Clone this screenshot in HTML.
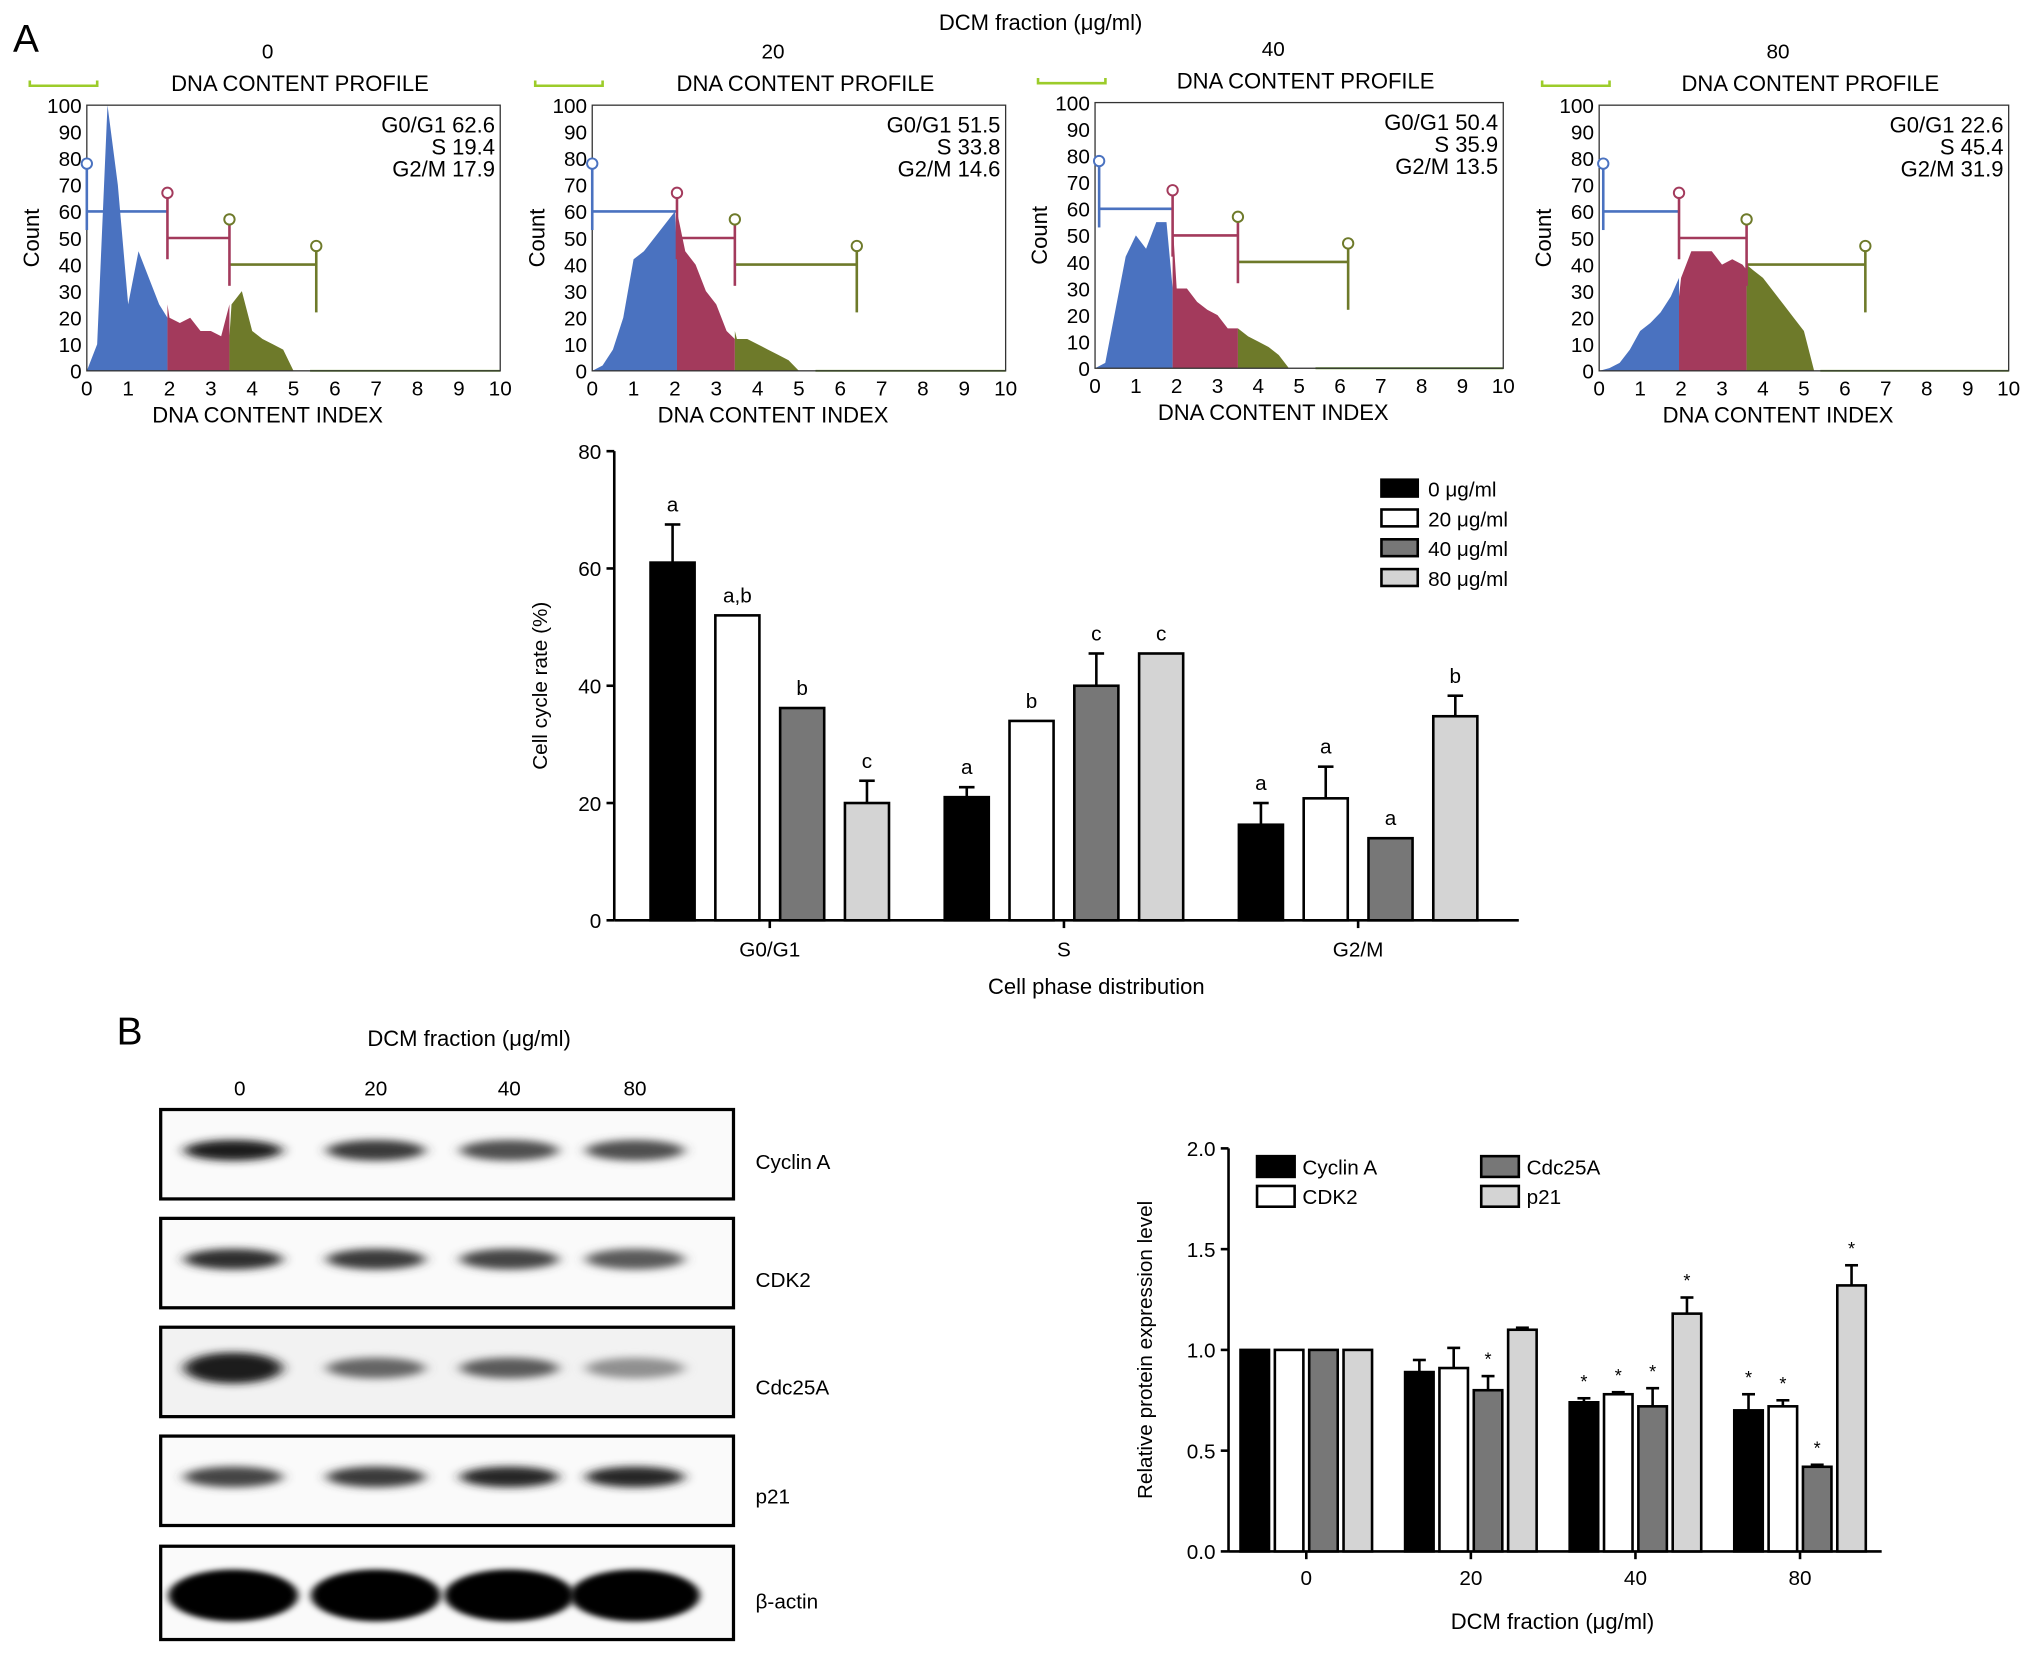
<!DOCTYPE html>
<html><head><meta charset="utf-8"><style>
html,body{margin:0;padding:0;background:#fff;}
svg{display:block;font-family:"Liberation Sans",Arial,sans-serif;}
</style></head><body>
<svg id="fig" width="2032" height="1654" viewBox="0 0 1568 1276" xmlns="http://www.w3.org/2000/svg">
<defs>
<filter id="blur" x="-30%" y="-100%" width="160%" height="300%"><feGaussianBlur stdDeviation="5 3"/></filter>
<filter id="blur2" x="-30%" y="-100%" width="160%" height="300%"><feGaussianBlur stdDeviation="3 2"/></filter>
</defs>
<text x="10" y="40" font-size="30">A</text>
<text x="803" y="23" font-size="17" text-anchor="middle">DCM fraction (μg/ml)</text>
<text x="90" y="806" font-size="30">B</text>
<g id="hist"></g>
<g id="barA"></g>
<g id="blot"></g>
<g id="barB"></g>
</svg>
<script>
const NS="http://www.w3.org/2000/svg";
function mk(p,t,a,txt){const e=document.createElementNS(NS,t);for(const k in a)e.setAttribute(k,a[k]);if(txt!==undefined)e.textContent=txt;p.appendChild(e);return e;}

// ---------- Histogram data ----------
const histDoses=["0","20","40","80"];
const histStats=[["G0/G1 62.6","S 19.4","G2/M 17.9"],["G0/G1 51.5","S 33.8","G2/M 14.6"],["G0/G1 50.4","S 35.9","G2/M 13.5"],["G0/G1 22.6","S 45.4","G2/M 31.9"]];
// heights at DNA index 0,0.25,...,5.25
const histP1=[0,10,100,70,25,45,35,25,20,18,20,15,15,13,25,30,15,12,10,8,0,0];
const histP2=[0,2,8,20,42,45,50,55,60,45,40,30,25,15,12,12,10,8,6,4,0,0];
const histP3=[0,2,22,42,50,45,55,55,30,30,25,22,20,15,15,12,10,8,5,0,0,0];
const histP4=[0,1,3,8,15,18,22,28,35,45,45,45,40,42,40,38,35,30,25,20,15,0];
const histGates=[[0,1.95,3.45,5.55],[0,2.05,3.45,6.4],[0.1,1.9,3.5,6.2],[0.1,1.95,3.6,6.5]];
const histSeries=[histP1,histP2,histP3,histP4];
const histBoxes=[[67,81,386,286],[457,81,776,286],[845,79,1160,284],[1234,81,1550,286]];
const colB="#4a72c0",colR="#a33a5c",colO="#6e7a2a";
const H=document.getElementById('hist');
histSeries.forEach((d,i)=>{
  const [x0,y0,x1,y1]=histBoxes[i];
  const g=mk(H,'g',{});
  
  
  const sx=v=>x0+(x1-x0)*v/10, sy=v=>y1-(y1-y0)*v/100;
  const cx=(x0+x1)/2;
  mk(g,'text',{x:cx-20,y:y0-36,'font-size':16,'text-anchor':'middle'},histDoses[i]);
  mk(g,'text',{x:cx+5,y:y0-11,'font-size':17,'text-anchor':'middle'},'DNA CONTENT PROFILE');
  mk(g,'path',{d:`M${x0-44} ${y0-19}v4h52v-4`,stroke:'#9ccc2a',fill:'none','stroke-width':2});
  const gt=histGates[i];
  const segs=[[0,gt[1],colB],[gt[1],gt[2],colR],[gt[2],5.4,colO]];
  segs.forEach(([a,b,c])=>{
    let pts=`${sx(a)},${sy(0)} `;
    for(let k=0;k<d.length;k++){const xv=k*0.25;if(xv<a-0.25||xv>b+0.25)continue;const xc=Math.min(Math.max(xv,a),b);pts+=`${sx(xc)},${sy(d[k])} `;}
    pts+=`${sx(b)},${sy(0)}`;
    const p=mk(g,'polygon',{points:pts,fill:c});
    
    
  });
  mk(g,'line',{x1:sx(5.4),x2:x1,y1:y1,y2:y1,stroke:'#6a9a2a','stroke-width':1.5});
  mk(g,'rect',{x:x0,y:y0,width:x1-x0,height:y1-y0,fill:'none',stroke:'#333','stroke-width':1});
  for(let t=0;t<=100;t+=10){mk(g,'text',{x:x0-4,y:sy(t)+6,'font-size':16,'text-anchor':'end'},t);}
  for(let t=0;t<=10;t++){mk(g,'text',{x:sx(t),y:y1+19,'font-size':16,'text-anchor':'middle'},t);}
  mk(g,'text',{x:cx-20,y:y1+40,'font-size':17,'text-anchor':'middle'},'DNA CONTENT INDEX');
  mk(g,'text',{transform:`translate(${x0-37},${(y0+y1)/2}) rotate(-90)`,'font-size':17,'text-anchor':'middle'},'Count');
  histStats[i].forEach((s,k)=>mk(g,'text',{x:x1-4,y:y0+21+k*17,'font-size':17,'text-anchor':'end'},s));
  const gl=[[gt[0],gt[1],60,colB],[gt[1],gt[2],50,colR],[gt[2],gt[3],40,colO]];
  const circ=[78,67,57,47];
  const ccol=[colB,colR,colO,colO];
  gl.forEach(([a,b,h,c])=>{mk(g,'line',{x1:sx(a),x2:sx(b),y1:sy(h),y2:sy(h),stroke:c,'stroke-width':2});});
  gt.forEach((v,k)=>{
    const yc=circ[k];
    mk(g,'line',{x1:sx(v),x2:sx(v),y1:sy(yc-2),y2:sy(yc-25),stroke:k==0?colB:(k<3?colR:colO),'stroke-width':2});
    mk(g,'circle',{cx:sx(v),cy:sy(yc),r:4,fill:'#fff',stroke:ccol[k],'stroke-width':1.5});
  });
});

// ---------- Bar chart A ----------
const phaseCats=["G0/G1","S","G2/M"];
const doseLabels=["0 μg/ml","20 μg/ml","40 μg/ml","80 μg/ml"];
const rate0=[61,21,16.3], rate20=[52,34,20.8], rate40=[36.2,40,14], rate80=[20,45.5,34.8];
const err0=[6.5,1.7,3.7], err20=[0,0,5.4], err40=[0,5.5,0], err80=[3.8,0,3.5];
const lettersA=[["a","a","a"],["a,b","b","a"],["b","c","a"],["c","c","b"]];
const yTicksA=[0,20,40,60,80];
const fillsA=["#000","#fff","#777","#d4d4d4"];
(function(){
  const G=document.getElementById('barA');
  const xL=474,xR=1172,yB=710,yT=348,max=80;
  const sy=v=>yB-(yB-yT)*v/max;
  const cX=i=>594+i*227;
  const ser=[rate0,rate20,rate40,rate80], errs=[err0,err20,err40,err80];
  mk(G,'line',{x1:xL,x2:xL,y1:yT,y2:yB,stroke:'#000','stroke-width':2});
  mk(G,'line',{x1:xL,x2:xR,y1:yB,y2:yB,stroke:'#000','stroke-width':2});
  yTicksA.forEach(t=>{mk(G,'line',{x1:xL-6,x2:xL,y1:sy(t),y2:sy(t),stroke:'#000','stroke-width':2});mk(G,'text',{x:xL-10,y:sy(t)+6,'font-size':16,'text-anchor':'end'},t);});
  phaseCats.forEach((c,i)=>{mk(G,'line',{x1:cX(i),x2:cX(i),y1:yB,y2:yB+6,stroke:'#000','stroke-width':2});mk(G,'text',{x:cX(i),y:yB+28,'font-size':16,'text-anchor':'middle'},c);});
  mk(G,'text',{x:846,y:767,'font-size':17,'text-anchor':'middle'},'Cell phase distribution');
  mk(G,'text',{transform:`translate(422,${(yB+yT)/2}) rotate(-90)`,'font-size':16,'text-anchor':'middle'},'Cell cycle rate (%)');
  ser.forEach((s,k)=>s.forEach((v,i)=>{
    const x=cX(i)+(k-1.5)*50-17;
    const top=sy(v+errs[k][i]);
    if(errs[k][i]>0){mk(G,'line',{x1:x+17,x2:x+17,y1:sy(v),y2:top,stroke:'#000','stroke-width':2});mk(G,'line',{x1:x+11,x2:x+23,y1:top,y2:top,stroke:'#000','stroke-width':2});}
    const r=mk(G,'rect',{x:x,y:sy(v),width:34,height:yB-sy(v),fill:fillsA[k],stroke:'#000','stroke-width':2});
    
    
    mk(G,'text',{x:x+17,y:top-10,'font-size':16,'text-anchor':'middle'},lettersA[k][i]);
  }));
  doseLabels.forEach((l,k)=>{
    const y=370+k*23;
    const e=mk(G,'rect',{x:1066,y:y,width:28,height:13,fill:fillsA[k],stroke:'#000','stroke-width':2});
    
    
    mk(G,'text',{x:1102,y:y+13,'font-size':16},l);
  });
})();

// ---------- Western blot ----------
const blotProteins=["Cyclin A","CDK2","Cdc25A","p21","β-actin"];
const blotLanes=["0","20","40","80"];
const blotIntensity=[[0.95,0.8,0.7,0.7],[0.85,0.8,0.75,0.65],[0.95,0.6,0.65,0.4],[0.75,0.8,0.9,0.9],[1,1,1,1]];
(function(){
  const G=document.getElementById('blot');
  mk(G,'text',{x:362,y:807,'font-size':17,'text-anchor':'middle'},'DCM fraction (μg/ml)');
  const lx=[185,290,393,490];
  blotLanes.forEach((l,i)=>mk(G,'text',{x:lx[i],y:845,'font-size':16,'text-anchor':'middle'},l));
  const rows=[[856,925],[940,1009],[1024,1093],[1108,1177],[1193,1265]];
  const lblY=[896,987,1070,1154,1235];
  rows.forEach(([a,b],r)=>{
    const g=mk(G,'g',{});
    
    
    mk(g,'rect',{x:124,y:a,width:442,height:b-a,fill:r==2?'#f2f2f2':'#fafafa',stroke:'#000','stroke-width':2.5});
    const cy=(a+b)/2 + (r==4?2:-3);
    blotIntensity[r].forEach((v,i)=>{
      const gray=Math.round(230-215*v);
      if(r==4){mk(g,'ellipse',{cx:lx[i]+(i==0?-5:0),cy:cy,rx:50,ry:20,fill:'#000',filter:'url(#blur2)'});}
      else mk(g,'ellipse',{cx:lx[i]+(i==0?-5:0),cy:cy,rx:38,ry:r==2&&i==0?12:8,fill:`rgb(${gray},${gray},${gray})`,filter:'url(#blur)'});
    });
    mk(G,'text',{x:583,y:lblY[r]+6,'font-size':16},blotProteins[r]);
  });
})();

// ---------- Bar chart B ----------
const doseCatsB=["0","20","40","80"];
const protNames=["Cyclin A","CDK2","Cdc25A","p21"];
const cyclinA=[1,0.89,0.74,0.70], cdk2=[1,0.91,0.78,0.72], cdc25a=[1,0.80,0.72,0.42], p21=[1,1.10,1.18,1.32];
const errCyclinA=[0,0.06,0.02,0.08], errCdk2=[0,0.10,0.01,0.03], errCdc25a=[0,0.07,0.09,0.01], errP21=[0,0.01,0.08,0.10];
const starCyclinA=[0,0,1,1], starCdk2=[0,0,1,1], starCdc25a=[0,1,1,1], starP21=[0,0,1,1];
const yTicksB=[0.0,0.5,1.0,1.5,2.0];
(function(){
  const G=document.getElementById('barB');
  const xL=948,xR=1452,yB=1197,yT=886,max=2;
  const sy=v=>yB-(yB-yT)*v/max;
  const cX=i=>1008+i*127;
  const ser=[cyclinA,cdk2,cdc25a,p21], errs=[errCyclinA,errCdk2,errCdc25a,errP21], stars=[starCyclinA,starCdk2,starCdc25a,starP21];
  mk(G,'line',{x1:xL,x2:xL,y1:yT,y2:yB,stroke:'#000','stroke-width':2});
  mk(G,'line',{x1:xL,x2:xR,y1:yB,y2:yB,stroke:'#000','stroke-width':2});
  yTicksB.forEach(t=>{mk(G,'line',{x1:xL-6,x2:xL,y1:sy(t),y2:sy(t),stroke:'#000','stroke-width':2});mk(G,'text',{x:xL-10,y:sy(t)+6,'font-size':16,'text-anchor':'end'},t.toFixed(1));});
  doseCatsB.forEach((c,i)=>{mk(G,'line',{x1:cX(i),x2:cX(i),y1:yB,y2:yB+6,stroke:'#000','stroke-width':2});mk(G,'text',{x:cX(i),y:yB+26,'font-size':16,'text-anchor':'middle'},c);});
  mk(G,'text',{x:1198,y:1257,'font-size':17,'text-anchor':'middle'},'DCM fraction (μg/ml)');
  mk(G,'text',{transform:`translate(889,${(yB+yT)/2}) rotate(-90)`,'font-size':16,'text-anchor':'middle'},'Relative protein expression level');
  ser.forEach((s,k)=>s.forEach((v,i)=>{
    const x=cX(i)+(k-1.5)*26.5-11;
    const top=sy(v+errs[k][i]);
    if(errs[k][i]>0){mk(G,'line',{x1:x+11,x2:x+11,y1:sy(v),y2:top,stroke:'#000','stroke-width':2});mk(G,'line',{x1:x+6,x2:x+16,y1:top,y2:top,stroke:'#000','stroke-width':2});}
    const r=mk(G,'rect',{x:x,y:sy(v),width:22,height:yB-sy(v),fill:fillsA[k],stroke:'#000','stroke-width':2});
    
    
    if(stars[k][i])mk(G,'text',{x:x+11,y:top-8,'font-size':14,'text-anchor':'middle'},'*');
  }));
  const lp=[[970,892],[970,915],[1143,892],[1143,915]];
  protNames.forEach((n,k)=>{
    const e=mk(G,'rect',{x:lp[k][0],y:lp[k][1],width:29,height:16,fill:fillsA[k],stroke:'#000','stroke-width':2});
    
    
    mk(G,'text',{x:lp[k][0]+35,y:lp[k][1]+14,'font-size':16},n);
  });
})();
</script>
</body></html>
